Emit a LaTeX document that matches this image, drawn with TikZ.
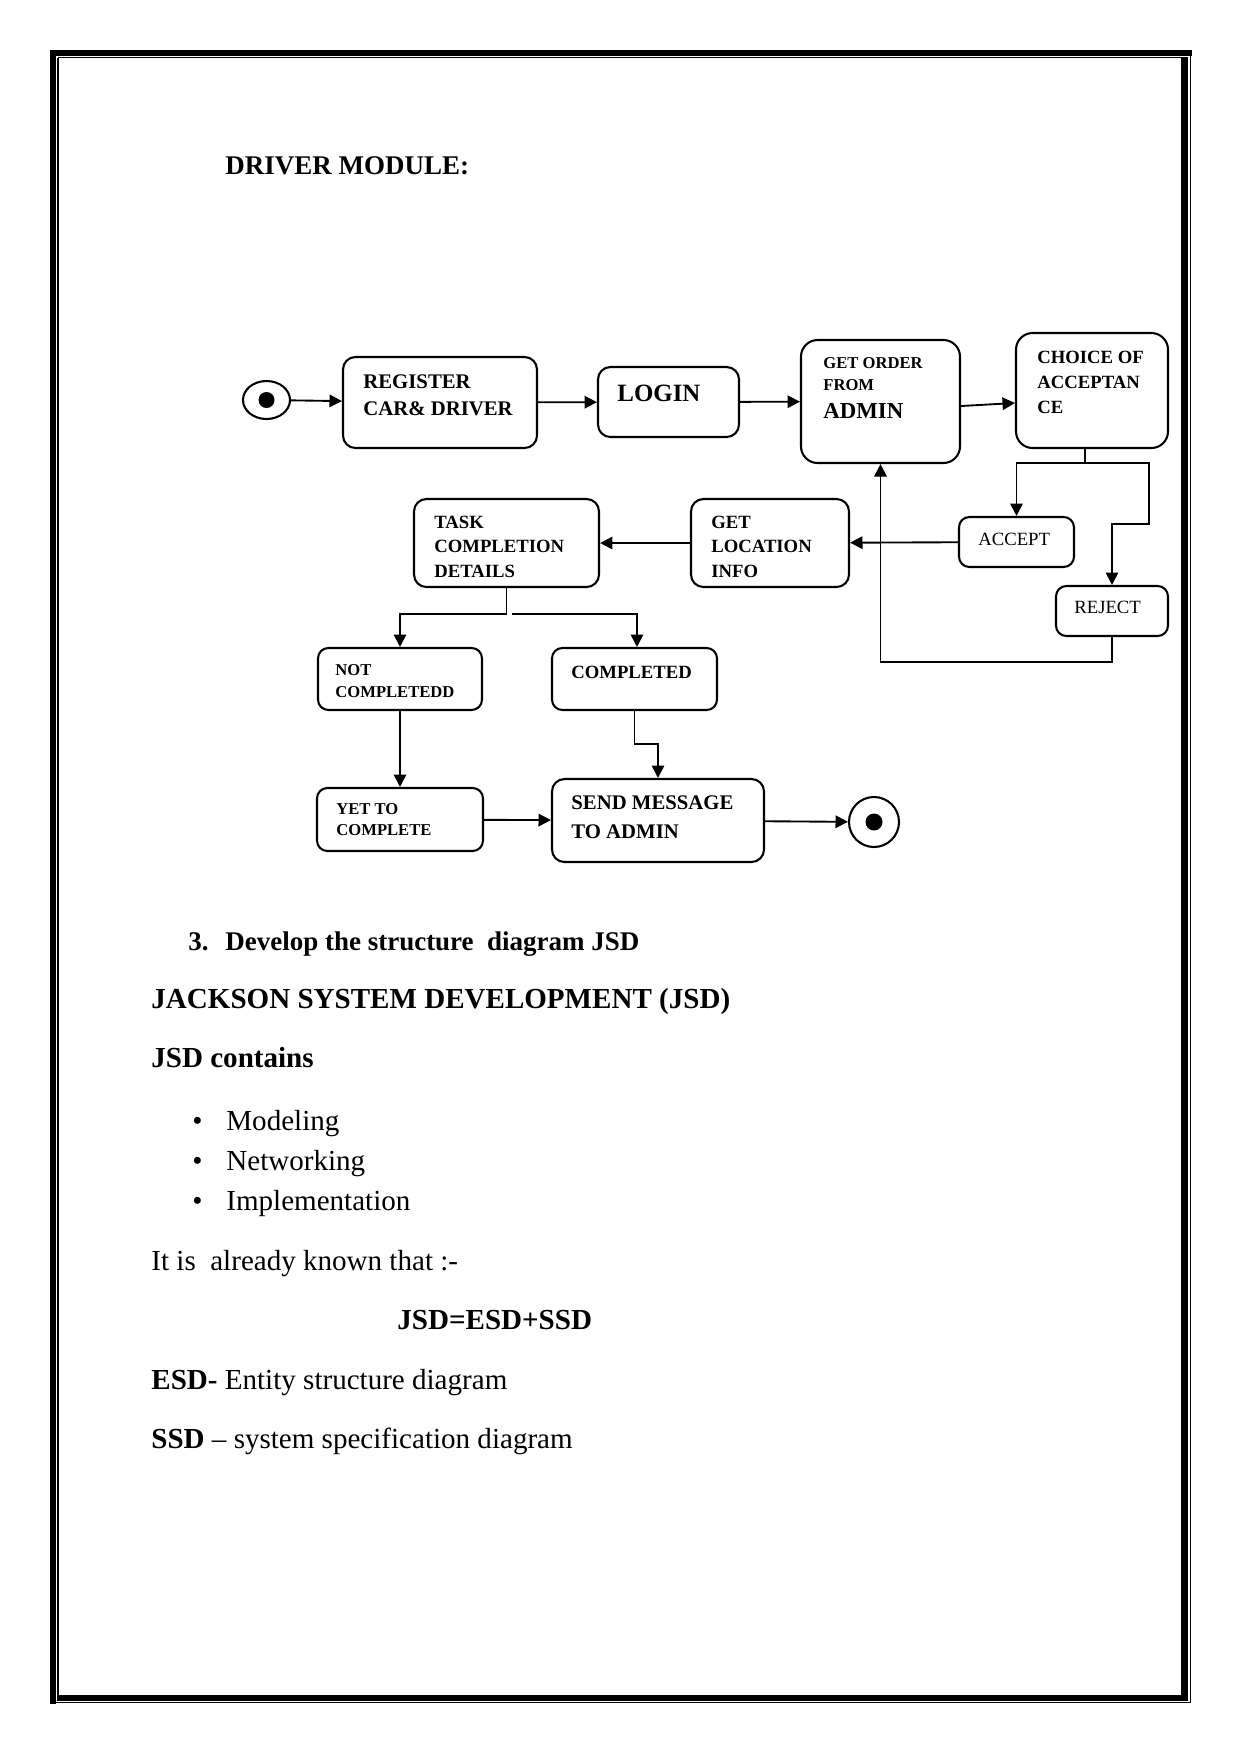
\documentclass[tikz,border=0pt]{standalone}
\usepackage{fontspec}
\setmainfont{Liberation Serif}
\usetikzlibrary{arrows.meta,calc,fit,shapes.geometric}
\newcommand\pxu{0.48bp}
\tikzset{
  box/.style={draw, line width=1pt, inner sep=0pt, rounded corners=6pt},
  bigbox/.style={box, rounded corners=8pt},
  smallbox/.style={box, rounded corners=5pt},
  lbl/.style={inner sep=0pt, anchor=west, align=left},
  body/.style={inner sep=0pt, anchor=base west, font=\fontsize{14}{17}\selectfont},
  bbody/.style={body, font=\fontsize{14}{17}\selectfont\bfseries},
  conn/.style={line width=0.9pt, -{Triangle[length=6pt,width=6pt]}},
  thinframe/.style={line width=0.7bp},
}
\begin{document}
\begin{tikzpicture}[x=0.48bp, y=-0.48bp]
\useasboundingbox (0,0) rectangle (1241,1754);
% page frame
\fill (50,50) rectangle (56,1703.5);
\fill (50,50) rectangle (1191.5,56);
\draw[thinframe] (1190.7,50) -- (1190.7,1703.4);
\draw[thinframe] (50,1702.7) -- (1191.4,1702.7);
\draw[thinframe] (57.8,57.5) -- (57.8,1695);
\draw[thinframe] (57.8,57.5) -- (1181,57.5);
\fill (1181,57) rectangle (1188,1701);
\fill (57,1695) rectangle (1188,1701);

% heading
\node (h1) [body, font=\fontsize{13}{15}\selectfont\bfseries] at (225,174) {DRIVER MODULE:};

% start / end
\node (st) [draw, ellipse, line width=1pt, inner sep=0pt, minimum width=47*\pxu, minimum height=38*\pxu] at (266.5,400) {};
\fill (st.center) circle (8);
\node (en) [draw, circle, line width=1pt, inner sep=0pt, minimum size=50*\pxu] at (874,822) {};
\fill (en.center) circle (8.5);

% boxes
\node (reg)   [box, fit={(343,357) (537,448)}] {};
\node (login) [box, fit={(598,367) (739,437)}] {};
\node (go)    [bigbox, fit={(801,340) (960,463)}] {};
\node (ch)    [bigbox, fit={(1016,333) (1168,448)}] {};
\node (acc)   [smallbox, fit={(959,517) (1074,567)}] {};
\node (rej)   [smallbox, fit={(1056,586) (1168,636)}] {};
\node (task)  [box, fit={(414,499) (599,587)}] {};
\node (gl)    [box, fit={(691,499) (849,587)}] {};
\node (not)   [smallbox, fit={(318,648) (482,710)}] {};
\node (comp)  [smallbox, fit={(552,648) (717,710)}] {};
\node (yet)   [smallbox, fit={(317,788) (483,851)}] {};
\node (send)  [box, fit={(552,779) (764,862)}] {};

% box texts
\node (regT)   [lbl, font=\fontsize{10}{13}\selectfont\bfseries] at (363,395.5) {REGISTER\\CAR\& DRIVER};
\node (loginT) [lbl, font=\fontsize{12}{14}\selectfont\bfseries] at (617,393) {LOGIN};
\node (goT)    [lbl, font=\fontsize{8}{10.5}\selectfont\bfseries] at (823,374) {GET ORDER\\FROM};
\node (goT2)   [lbl, font=\fontsize{11}{13}\selectfont\bfseries] at (823,411) {ADMIN};
\node (chT)    [lbl, font=\fontsize{9}{12}\selectfont\bfseries] at (1037,382) {CHOICE OF\\ACCEPTAN\\CE};
\node (accT)   [lbl, font=\fontsize{9}{11}\selectfont] at (978,539) {ACCEPT};
\node (rejT)   [lbl, font=\fontsize{9}{11}\selectfont] at (1074,607) {REJECT};
\node (taskT)  [lbl, font=\fontsize{9}{11.8}\selectfont\bfseries] at (434,546.5) {TASK\\COMPLETION\\DETAILS};
\node (glT)    [lbl, font=\fontsize{9}{11.8}\selectfont\bfseries] at (711,546.5) {GET\\LOCATION\\INFO};
\node (notT)   [lbl, font=\fontsize{8}{10.6}\selectfont\bfseries] at (335,681) {NOT\\COMPLETEDD};
\node (compT)  [lbl, font=\fontsize{9}{11}\selectfont\bfseries] at (571,672) {COMPLETED};
\node (yetT)   [lbl, font=\fontsize{8}{10.2}\selectfont\bfseries] at (336,819.5) {YET TO\\COMPLETE};
\node (sendT)  [lbl, font=\fontsize{10}{14}\selectfont\bfseries] at (571,817.5) {SEND MESSAGE\\TO ADMIN};

% junction points
\coordinate (j1) at (1085,463);
\coordinate (j2) at (1149,463);
\coordinate (j3) at (1149,524);
\coordinate (j4) at (1112,662);
\coordinate (j5) at (506.5,614);
\coordinate (j6) at (512,614);
\coordinate (j7) at (634.5,744);

% connectors
\draw[conn] (st) -- (reg);
\draw[conn] (reg) -- (login);
\draw[conn] (login) -- (go);
\draw[conn] ($(go.east)+(0,4.5)$) -- ($(ch.west)+(0,12.5)$);
\draw[conn] (ch.south -| j1) -- (j1) -| (acc.north);
\draw[conn] (j1) -- (j2) -- (j3) -| (rej.north);
\draw[conn] (acc) -- (gl);
\draw[conn] (rej.south) -- (j4) -| (go.south);
\draw[conn] (gl) -- (task);
\draw[conn] (task.south) -- (j5) -| (not.north);
\draw[conn] (j6) -| ($(comp.north)+(2.5,0)$);
\draw[conn] (not) -- (yet);
\draw[conn] (comp.south) -- (j7) -| (send.north);
\draw[conn] (yet) -- (send);
\draw[conn] (send) -- (en);

% lower text
\node (n3) [body, font=\fontsize{13}{15}\selectfont\bfseries] at (188,950) {3.};
\node (h2) [body, font=\fontsize{13}{15}\selectfont\bfseries] at (225,950) {Develop the structure\ \ diagram JSD};
\node (h3) [bbody] at (151,1008) {JACKSON SYSTEM DEVELOPMENT (JSD)};
\node (h4) [bbody] at (151,1067) {JSD contains};
\node (b1) [body] at (192,1130) {•};
\node (i1) [body] at (226,1130) {Modeling};
\node (b2) [body] at (192,1170) {•};
\node (i2) [body] at (226,1170) {Networking};
\node (b3) [body] at (192,1210) {•};
\node (i3) [body] at (226,1210) {Implementation};
\node (it) [body] at (151,1270) {It is\ \ already known that :-};
\node (eq) [bbody] at (397,1329) {JSD=ESD+SSD};
\node (esd) [body] at (151,1389) {\textbf{ESD-} Entity structure diagram};
\node (ssd) [body] at (151,1448) {\textbf{SSD} – system specification diagram};
\end{tikzpicture}
\end{document}
